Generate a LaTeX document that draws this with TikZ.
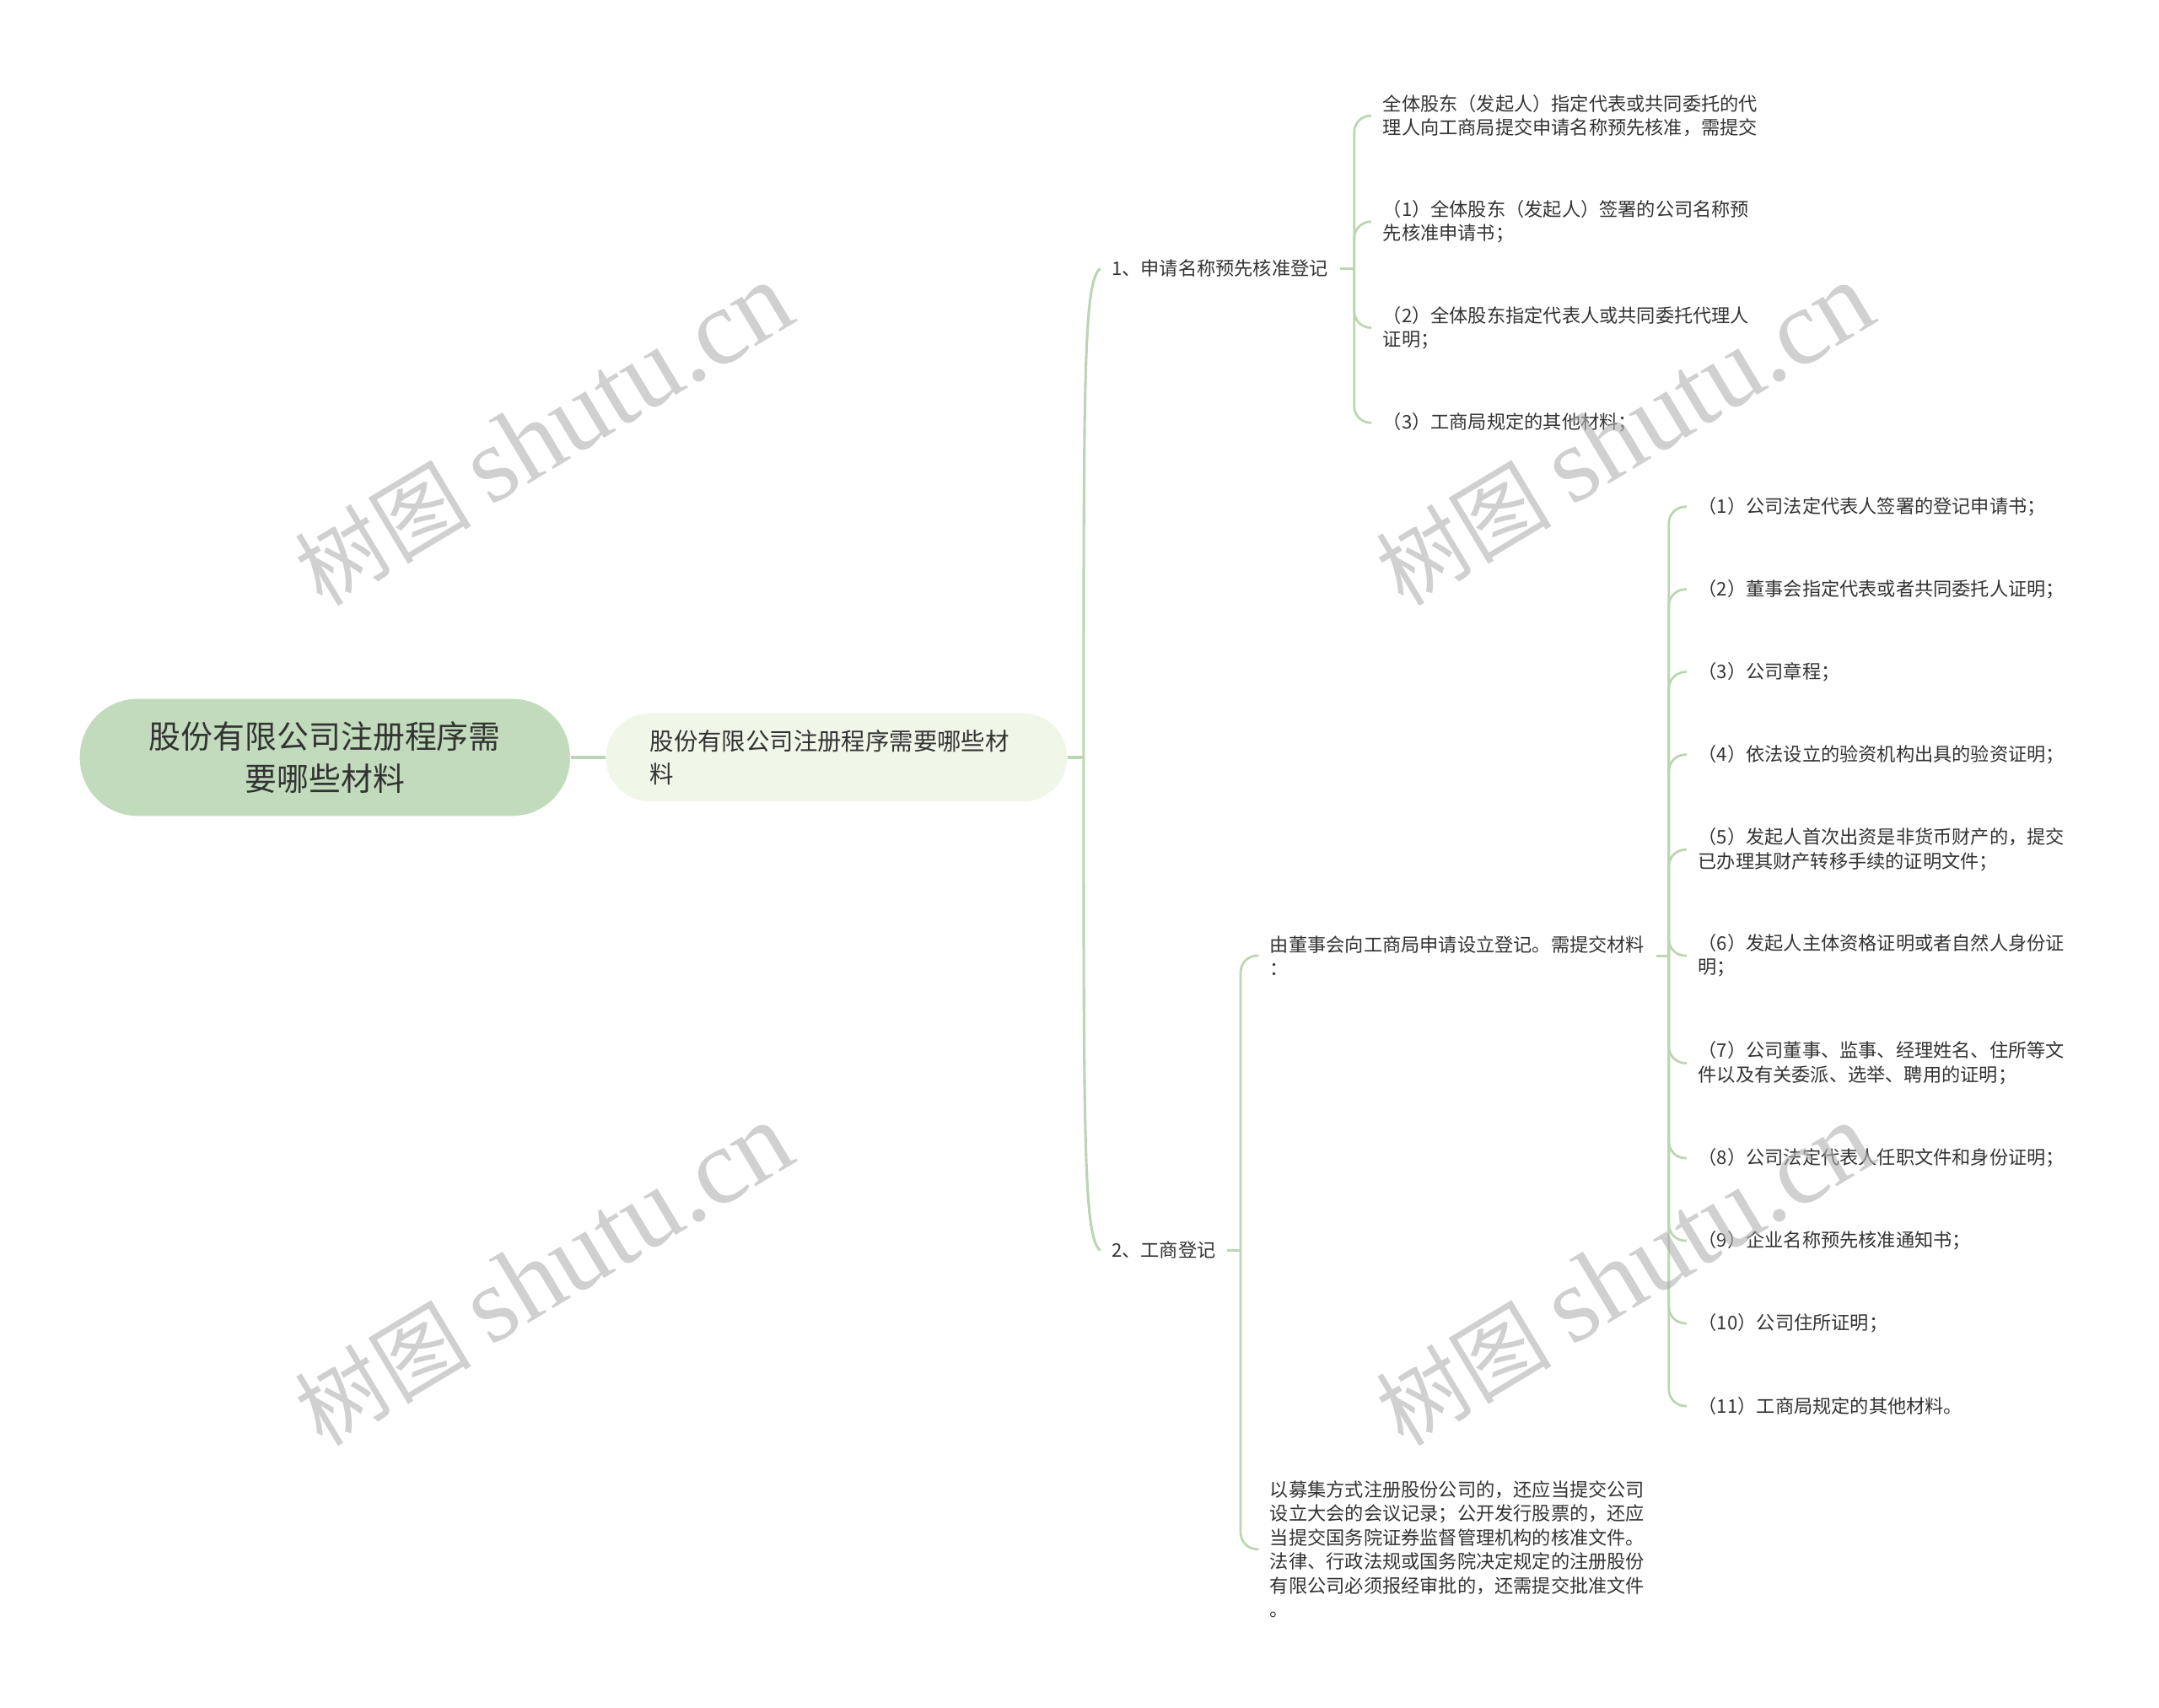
\documentclass[tikz,border=0pt]{standalone}
\usepackage{fontspec}
\setmainfont{Noto Sans CJK SC}
\newfontfamily\markfont{Liberation Serif}
\usepackage{tikz}
\usetikzlibrary{positioning, calc}
\definecolor{rootgreen}{HTML}{C2DBBC}
\definecolor{subgreen}{HTML}{F0F6E8}
\definecolor{linegreen}{HTML}{BCD5B3}
\definecolor{inkgray}{HTML}{333333}
\definecolor{markgray}{HTML}{B0B0B0}

\begin{document}
\begin{tikzpicture}[
    x=0.5pt, y=-0.5pt,
    rootnode/.style={rectangle, rounded corners=21pt, fill=rootgreen, minimum width=178pt, minimum height=42.5pt, align=center, text=inkgray, font=\fontsize{11.6pt}{15.5pt}\selectfont},
    subnode/.style={rectangle, rounded corners=16pt, fill=subgreen, minimum height=32pt, inner xsep=16pt, text width=135.5pt, align=left, text=inkgray, font=\fontsize{8.7pt}{12pt}\selectfont},
    topic/.style={anchor=west, inner xsep=4pt, inner ysep=2pt, align=left, text=inkgray, font=\fontsize{6.8pt}{8.7pt}\selectfont},
    trunk/.style={draw=linegreen, line width=0.95pt},
    branch/.style={draw=linegreen, line width=0.85pt, rounded corners=6pt},
    wmark/.style={text=markgray, opacity=0.6, rotate=31, inner sep=0pt}
]
\useasboundingbox (0,0) rectangle (1568,1240);

\node[rootnode] (root) at (236,550) {股份有限公司注册程序需\\要哪些材料};
\node[subnode] (sub) at (607.5,550) {股份有限公司注册程序需要哪些材\\料};

\node[topic] (s1) at (799,195) {1、申请名称预先核准登记};
\node[topic] (s2) at (799,908) {2、工商登记};

\node[topic] (a0) at (996,84) {全体股东（发起人）指定代表或共同委托的代\\理人向工商局提交申请名称预先核准，需提交};
\node[topic] (a1) at (996,161) {（1）全体股东（发起人）签署的公司名称预\\先核准申请书；};
\node[topic] (a2) at (996,238) {（2）全体股东指定代表人或共同委托代理人\\证明；};
\node[topic] (a3) at (996,307) {（3）工商局规定的其他材料；};

\node[topic] (b0) at (914,694) {由董事会向工商局申请设立登记。需提交材料\\：};
\node[topic] (b1) at (914,1125) {以募集方式注册股份公司的，还应当提交公司\\设立大会的会议记录；公开发行股票的，还应\\当提交国务院证券监督管理机构的核准文件。\\法律、行政法规或国务院决定规定的注册股份\\有限公司必须报经审批的，还需提交批准文件\\。};

\node[topic] (c1) at (1225,368) {（1）公司法定代表人签署的登记申请书；};
\node[topic] (c2) at (1225,428) {（2）董事会指定代表或者共同委托人证明；};
\node[topic] (c3) at (1225,488) {（3）公司章程；};
\node[topic] (c4) at (1225,548) {（4）依法设立的验资机构出具的验资证明；};
\node[topic] (c5) at (1225,617) {（5）发起人首次出资是非货币财产的，提交\\已办理其财产转移手续的证明文件；};
\node[topic] (c6) at (1225,694) {（6）发起人主体资格证明或者自然人身份证\\明；};
\node[topic] (c7) at (1225,772) {（7）公司董事、监事、经理姓名、住所等文\\件以及有关委派、选举、聘用的证明；};
\node[topic] (c8) at (1225,841) {（8）公司法定代表人任职文件和身份证明；};
\node[topic] (c9) at (1225,901) {（9）企业名称预先核准通知书；};
\node[topic] (c10) at (1225,961) {（10）公司住所证明；};
\node[topic] (c11) at (1225,1021) {（11）工商局规定的其他材料。};

\coordinate (t0) at (787,550);
\coordinate (k1) at (983.5,195);
\coordinate (k2) at (901,908);
\coordinate (k3) at (1212,694);

\draw[trunk] (root.east) -- (sub.west);
\draw[trunk] (sub.east) -- (t0);
\draw[trunk] (t0) .. controls (787,270) and (787,205) .. (s1.west);
\draw[trunk] (t0) .. controls (787,830) and (787,898) .. (s2.west);

\draw[trunk] (s1.east) -- (k1);
\draw[branch] (k1) |- (a0.west);
\draw[branch] (k1) |- (a1.west);
\draw[branch] (k1) |- (a2.west);
\draw[branch] (k1) |- (a3.west);

\draw[trunk] (s2.east) -- (k2);
\draw[branch] (k2) |- (b0.west);
\draw[branch] (k2) |- (b1.west);

\draw[trunk] (b0.east) -- (k3);
\draw[branch] (k3) |- (c1.west);
\draw[branch] (k3) |- (c2.west);
\draw[branch] (k3) |- (c3.west);
\draw[branch] (k3) |- (c4.west);
\draw[branch] (k3) |- (c5.west);
\draw[branch] (k3) |- (c6.west);
\draw[branch] (k3) |- (c7.west);
\draw[branch] (k3) |- (c8.west);
\draw[branch] (k3) |- (c9.west);
\draw[branch] (k3) |- (c10.west);
\draw[branch] (k3) |- (c11.west);

\node[wmark] (w1) at (395,316) {\fontsize{32pt}{32pt}\selectfont 树图 {\markfont\fontsize{39pt}{39pt}\selectfont shutu.cn}};
\node[wmark] (w2) at (1180,316) {\fontsize{32pt}{32pt}\selectfont 树图 {\markfont\fontsize{39pt}{39pt}\selectfont shutu.cn}};
\node[wmark] (w3) at (395,926) {\fontsize{32pt}{32pt}\selectfont 树图 {\markfont\fontsize{39pt}{39pt}\selectfont shutu.cn}};
\node[wmark] (w4) at (1180,926) {\fontsize{32pt}{32pt}\selectfont 树图 {\markfont\fontsize{39pt}{39pt}\selectfont shutu.cn}};
\end{tikzpicture}
\end{document}
